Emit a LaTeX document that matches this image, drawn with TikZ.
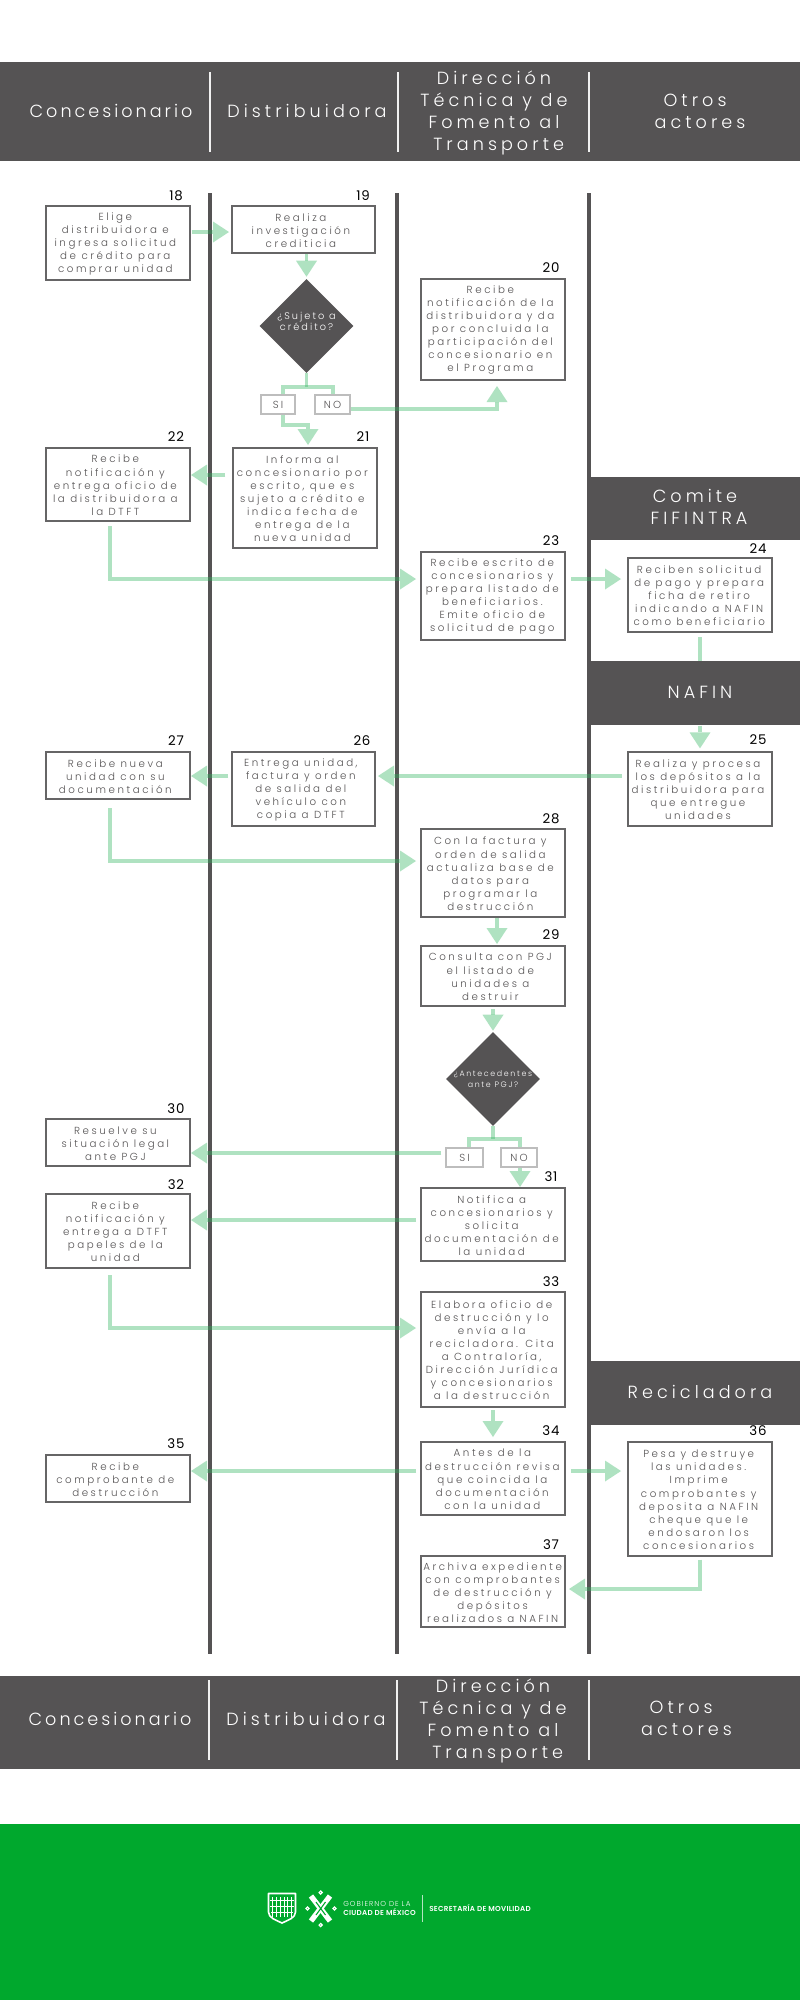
\documentclass[tikz,border=0pt]{standalone}
\usepackage{fontspec}
\usetikzlibrary{arrows.meta,shapes.geometric,calc}
\setmainfont{Poppins}
\newfontfamily\lightfont[LetterSpace=25]{Poppins Light}
\newfontfamily\decfont[LetterSpace=21]{Poppins Light}
\newfontfamily\headfont[LetterSpace=23]{Poppins Light}
\newfontfamily\headtight[LetterSpace=17]{Poppins Light}
\newfontfamily\numfont[LetterSpace=6]{Poppins}
\newfontfamily\markfont[LetterSpace=4]{Poppins SemiBold}
\newfontfamily\marklight[LetterSpace=14]{Poppins Light}
\definecolor{ink}{HTML}{555354}
\definecolor{boxline}{HTML}{666566}
\definecolor{flowgreen}{HTML}{2FB55E}
\definecolor{govgreen}{HTML}{00A82D}
\definecolor{tagline}{HTML}{BDBDBD}
\tikzset{
  x=0.75pt,y=-0.75pt,
  band/.style={fill=ink,draw=none},
  bandnode/.style={fill=ink,draw=none,inner sep=0pt,anchor=north west,minimum width=158.25pt},
  lane/.style={draw=ink,line width=3pt},
  sep/.style={draw=white!92!ink,line width=2.2pt},
  stepbox/.style={draw=boxline,line width=1.5pt,fill=white,inner sep=0pt,anchor=north west},
  steptext/.style={text=ink,align=center,inner sep=0pt,font=\lightfont\fontsize{7.7}{9.8}\selectfont},
  headtext/.style={text=white,align=center,inner sep=0pt,font=\headfont\fontsize{13.2}{16.7}\selectfont},
  headnarrow/.style={text=white,align=center,inner sep=0pt,font=\headtight\fontsize{13.2}{16.7}\selectfont},
  num/.style={text=black,inner sep=0pt,font=\numfont\fontsize{10}{12}\selectfont},
  tagbox/.style={draw=tagline,line width=1.1pt,fill=white,text=ink,inner sep=0pt,font=\decfont\fontsize{7.7}{9.8}\selectfont},
  decision/.style={diamond,fill=ink,draw=none,inner sep=0pt,aspect=1,minimum width=70.5pt,minimum height=70.5pt},
  dectext/.style={text=white,align=center,inner sep=0pt},
  flowline/.style={draw=flowgreen,draw opacity=.38,line width=2.8pt},
  flow/.style={flowline,fill opacity=.38,-{Triangle[length=12pt,width=15.75pt,fill=flowgreen,line width=0pt]}},
}
\newcommand{\stepnode}[7][-2]{%
  \pgfmathsetmacro{\bw}{(#4-#2)*0.75-1.5}\pgfmathsetmacro{\bh}{(#5-#3)*0.75-1.5}%
  \node[stepbox,minimum width=\bw pt,minimum height=\bh pt] (s#6) at (#2,#3) {};
  \node[steptext] (t#6) at ([xshift=#1 pt,yshift=-.6pt]s#6.center) {#7};
}
\begin{document}
\begin{tikzpicture}
\useasboundingbox (0,0) rectangle (800,2000);
\fill[white] (0,0) rectangle (800,2000);
% bands
\path[band] (0,62) rectangle (800,161);
\path[band] (0,1676) rectangle (800,1769);
\fill[govgreen] (0,1824) rectangle (800,2000);
% lanes
\foreach \lx/\ln in {210/a,397/b,589/c}{
  \coordinate (lt\ln) at (\lx,193);
  \coordinate (lb\ln) at (\lx,1654);
  \draw[lane] (lt\ln) -- (lb\ln);
}
\node[bandnode,minimum height=47.25pt] (bc) at (589,477) {};
\node[bandnode,minimum height=48pt] (bn) at (589,661) {};
\node[bandnode,minimum height=48pt] (br) at (589,1361) {};
% header separators
\foreach \lx in {210,398,589}{\draw[sep] (\lx,72) -- (\lx,152);}
\foreach \lx in {209,397,589}{\draw[sep] (\lx,1680) -- (\lx,1760);}
% header text
\node[headnarrow] (h1) at (111,111) {Concesionario};
\node[headtext] (h2) at (307,111) {Distribuidora};
\node[headtext] (h3) at (494,113) {Dirección\\Técnica y de\\Fomento al\\\hspace*{7pt}Transporte};
\node[headtext] (h4) at (700,111) {Otros\hspace*{7.5pt}\\actores};
\node[headtext] (h5) at (699,507) {Comite\hspace*{6pt}\\FIFINTRA};
\node[headtext] (h6) at (700,692) {NAFIN};
\node[headtext] (h7) at (700,1392) {Recicladora};
\node[headnarrow] (f1) at (110,1719) {Concesionario};
\node[headtext] (f2) at (306,1719) {Distribuidora};
\node[headtext] (f3) at (493,1721) {Dirección\\Técnica y de\\Fomento al\\\hspace*{7pt}Transporte};
\node[headtext] (f4) at (686.5,1718) {Otros\hspace*{8pt}\\actores};
% step boxes
\stepnode{45}{205}{191}{281}{18}{Elige\\distribuidora e\\ingresa solicitud\\de crédito para\\comprar unidad}
\stepnode{231}{205}{376}{254}{19}{Realiza\\investigación\\crediticia}
\stepnode{420}{278}{566}{381}{20}{Recibe\\notificación de la\\distribuidora y da\\por concluida la\\participación del\\concesionario en\\el Programa}
\stepnode{232}{447}{378}{549}{21}{Informa al\\concesionario por\\escrito, que es\\sujeto a crédito e\\indica fecha de\\entrega de la\\nueva unidad}
\stepnode{45}{447}{191}{522}{22}{Recibe\\notificación y\\entrega oficio de\\la distribuidora a\\la DTFT}
\stepnode[-.5]{420}{551}{566}{641}{23}{Recibe escrito de\\concesionarios y\\prepara listado de\\beneficiarios.\\Emite oficio de\\solicitud de pago}
\stepnode[-.6]{627}{557}{773}{633}{24}{Reciben solicitud\\de pago y prepara\\ficha de retiro\\indicando a NAFIN\\como beneficiario}
\stepnode[-1.5]{627}{751}{773}{827}{25}{Realiza y procesa\\los depósitos a la\\distribuidora para\\que entregue\\unidades}
\stepnode{231}{751}{376}{827}{26}{Entrega unidad,\\factura y orden\\de salida del\\vehículo con\\copia a DTFT}
\stepnode{45}{751}{191}{800}{27}{Recibe nueva\\unidad con su\\documentación}
\stepnode{420}{828}{566}{918}{28}{Con la factura y\\orden de salida\\actualiza base de\\datos para\\programar la\\destrucción}
\stepnode{420}{945}{566}{1007}{29}{Consulta con PGJ\\el listado de\\unidades a\\destruir}
\stepnode{45}{1118}{191}{1167}{30}{Resuelve su\\situación legal\\ante PGJ}
\stepnode[-1]{420}{1187}{566}{1262}{31}{Notifica a\\concesionarios y\\solicita\\documentación de\\la unidad}
\stepnode{45}{1193}{191}{1269}{32}{Recibe\\notificación y\\entrega a DTFT\\papeles de la\\unidad}
\stepnode[-1]{420}{1291}{566}{1408}{33}{Elabora oficio de\\destrucción y lo\\envía a la\\recicladora. Cita\\a Contraloría,\\Dirección Jurídica\\y concesionarios\\a la destrucción}
\stepnode[-.5]{420}{1441}{566}{1516}{34}{Antes de la\\destrucción revisa\\que coincida la\\documentación\\con la unidad}
\stepnode{45}{1454}{191}{1503}{35}{Recibe\\comprobante de\\destrucción}
\stepnode[-1]{627}{1441}{773}{1557}{36}{Pesa y destruye\\las unidades.\\Imprime\\comprobantes y\\deposita a NAFIN\\cheque que le\\endosaron los\\concesionarios}
\stepnode[-.3]{420}{1555}{566}{1628}{37}{Archiva expediente\\con comprobantes\\de destrucción y\\depósitos\\realizados a NAFIN}
% numbers
\foreach \nn/\nx/\ny in {18/176/196,19/363/196,20/551/268,21/363/437,22/176/437,23/551/541,24/758/549,25/758/740,26/362/741,27/176/741,28/551/819,29/551/935,30/176/1109,31/551/1177,32/176/1185,33/551/1282,34/551/1431,35/176/1444,36/758/1431,37/551/1545}{
  \node[num] (n\nn) at (\nx,\ny) {\nn};
}
% decisions
\node[decision] (d1) at (306.5,326) {};
\node[dectext,font=\decfont\fontsize{7.3}{8.3}\selectfont] (d1t) at ([yshift=3.5pt]d1.center) {¿Sujeto a\\crédito?};
\node[decision] (d2) at (493,1079) {};
\node[dectext,font=\decfont\fontsize{5.9}{8.3}\selectfont] (d2t) at (d2.center) {¿Antecedentes\\ante PGJ?};
% tags
\node[tagbox,minimum width=25.5pt,minimum height=14.2pt] (si1) at (278,404.5) {SI};
\node[tagbox,minimum width=26.2pt,minimum height=14.2pt] (no1) at (332.5,404.5) {NO};
\node[tagbox,minimum width=27.7pt,minimum height=14.2pt] (si2) at (464.5,1157.5) {SI};
\node[tagbox,minimum width=27pt,minimum height=14.2pt] (no2) at (519,1157.5) {NO};
% junction coordinates
\coordinate (j1) at (306.5,387); \coordinate (j1l) at (283,387); \coordinate (j1r) at (333,387);
\coordinate (j1b) at (283,425); \coordinate (j1c) at (308,425);
\coordinate (k1) at (497,409);
\coordinate (c22) at (110,579); \coordinate (c27) at (110,861); \coordinate (c32) at (110,1328);
\coordinate (c28) at (497,930); \coordinate (c36) at (700,1589);
\coordinate (j2) at (493,1139); \coordinate (j2l) at (469,1139); \coordinate (j2r) at (520,1139);
% connectors
\draw[flow] ([xshift=1pt]s18.east |- 0,232) -- ([xshift=-1.5pt]s19.west |- 0,232);
\draw[flow,shorten >=1.5pt] (d1.north |- s19.south) -- (d1.north);
\draw[flowline] (d1.south) -- (j1);
\draw[flowline] (si1.north -| j1l) -- (j1l) -- (j1r) -- (no1.north -| j1r);
\draw[flow,shorten >=1.5pt] (si1.south -| j1b) -- (j1b) -- (j1c) -- (s21.north -| j1c);
\draw[flow,shorten >=3.75pt] (no1.east |- k1) -- (k1) -- (k1 |- s20.south);
\draw[flow] ([xshift=-5pt]s21.west |- 0,475) -- (s22.east |- 0,475);
\draw[flow,shorten >=3pt] ([yshift=-3pt]c22 |- s22.south) -- (c22) -- (s23.west |- c22);
\draw[flow] ([xshift=3.75pt]s23.east |- c22) -- ([xshift=-4.5pt]s24.west |- c22);
\draw[flowline] ([yshift=-3pt]s24.south) -- (s24.south |- bn.north);
\draw[flow,shorten >=2pt] (s25.north |- bn.south) -- (s25.north);
\draw[flow,shorten >=1.5pt] ([xshift=-3.75pt]s25.west |- 0,776) -- (s26.east |- 0,776);
\draw[flow] ([xshift=-2.25pt]s26.west |- 0,776) -- (s27.east |- 0,776);
\draw[flow,shorten >=3pt] ([yshift=-6pt]c27 |- s27.south) -- (c27) -- (s28.west |- c27);
\draw[flow,shorten >=.75pt] (c28 |- s28.south) -- (c28 |- s29.north);
\draw[flow,shorten >=.75pt] ([yshift=-1.5pt]d2.north |- s29.south) -- (d2.north);
\draw[flowline] (d2.south) -- (j2);
\draw[flowline] (si2.north -| j2l) -- (j2l) -- (j2r) -- (no2.north -| j2r);
\draw[flow] ([xshift=-3pt]si2.west |- 0,1153) -- (s30.east |- 0,1153);
\draw[flow] (no2.south -| j2r) -- (s31.north -| j2r);
\draw[flow] ([xshift=-3pt]s31.west |- 0,1220) -- (s32.east |- 0,1220);
\draw[flow,shorten >=3pt] ([yshift=-4.5pt]c32 |- s32.south) -- (c32) -- (s33.west |- c32);
\draw[flow,shorten >=3pt] ([yshift=-1.5pt]s33.south) -- (s34.north);
\draw[flow] ([xshift=-3pt]s34.west |- 0,1471) -- (s35.east |- 0,1471);
\draw[flow] ([xshift=3.75pt]s34.east |- 0,1471) -- ([xshift=-4.5pt]s36.west |- 0,1471);
\draw[flow,shorten >=2.25pt] ([yshift=-2pt]s36.south) -- (c36) -- (s37.east |- c36);
% logo
\draw[white,line width=1.2pt,line join=round] (268.5,1893.5) -- (295.5,1893.5) -- (295.5,1912) .. controls (295.5,1918) and (288,1920) .. (282,1923) .. controls (276,1920) and (268.5,1918) .. (268.5,1912) -- cycle;
\foreach \sx in {272.5,276.5,280,284,287.5,291.5}{\draw[white,line width=.55pt] (\sx,1897) -- (\sx,1917);}
\draw[white,line width=.7pt] (270,1900) -- (294,1900) (270,1906) -- (294,1906) (271,1912) -- (293,1912);
\draw[white,line width=4pt] (311,1896) -- (330,1921);
\draw[white,line width=4pt] (330,1896) -- (311,1921);
\draw[govgreen,line width=.8pt] (316,1902) -- (325.5,1915) (325.5,1902) -- (316,1915);
\foreach \cx/\cy in {320.7/1892.5,320.7/1925,307.5/1908.5,334.5/1908.5}{\draw[white,line width=.9pt] (\cx,\cy) circle (1.6);}
\node[anchor=west,text=white,inner sep=0pt,font=\marklight\fontsize{5.4}{6}\selectfont] (g1) at (343,1904) {GOBIERNO DE LA};
\node[anchor=west,text=white,inner sep=0pt,font=\markfont\fontsize{5.4}{6}\selectfont] (g2) at (343,1912) {CIUDAD DE MÉXICO};
\draw[white!70!govgreen,line width=.5pt] (422,1895) -- (422,1922);
\node[anchor=west,text=white,inner sep=0pt,font=\markfont\fontsize{5.4}{6}\selectfont] (g3) at (429,1908) {SECRETARÍA DE MOVILIDAD};
\end{tikzpicture}
\end{document}
